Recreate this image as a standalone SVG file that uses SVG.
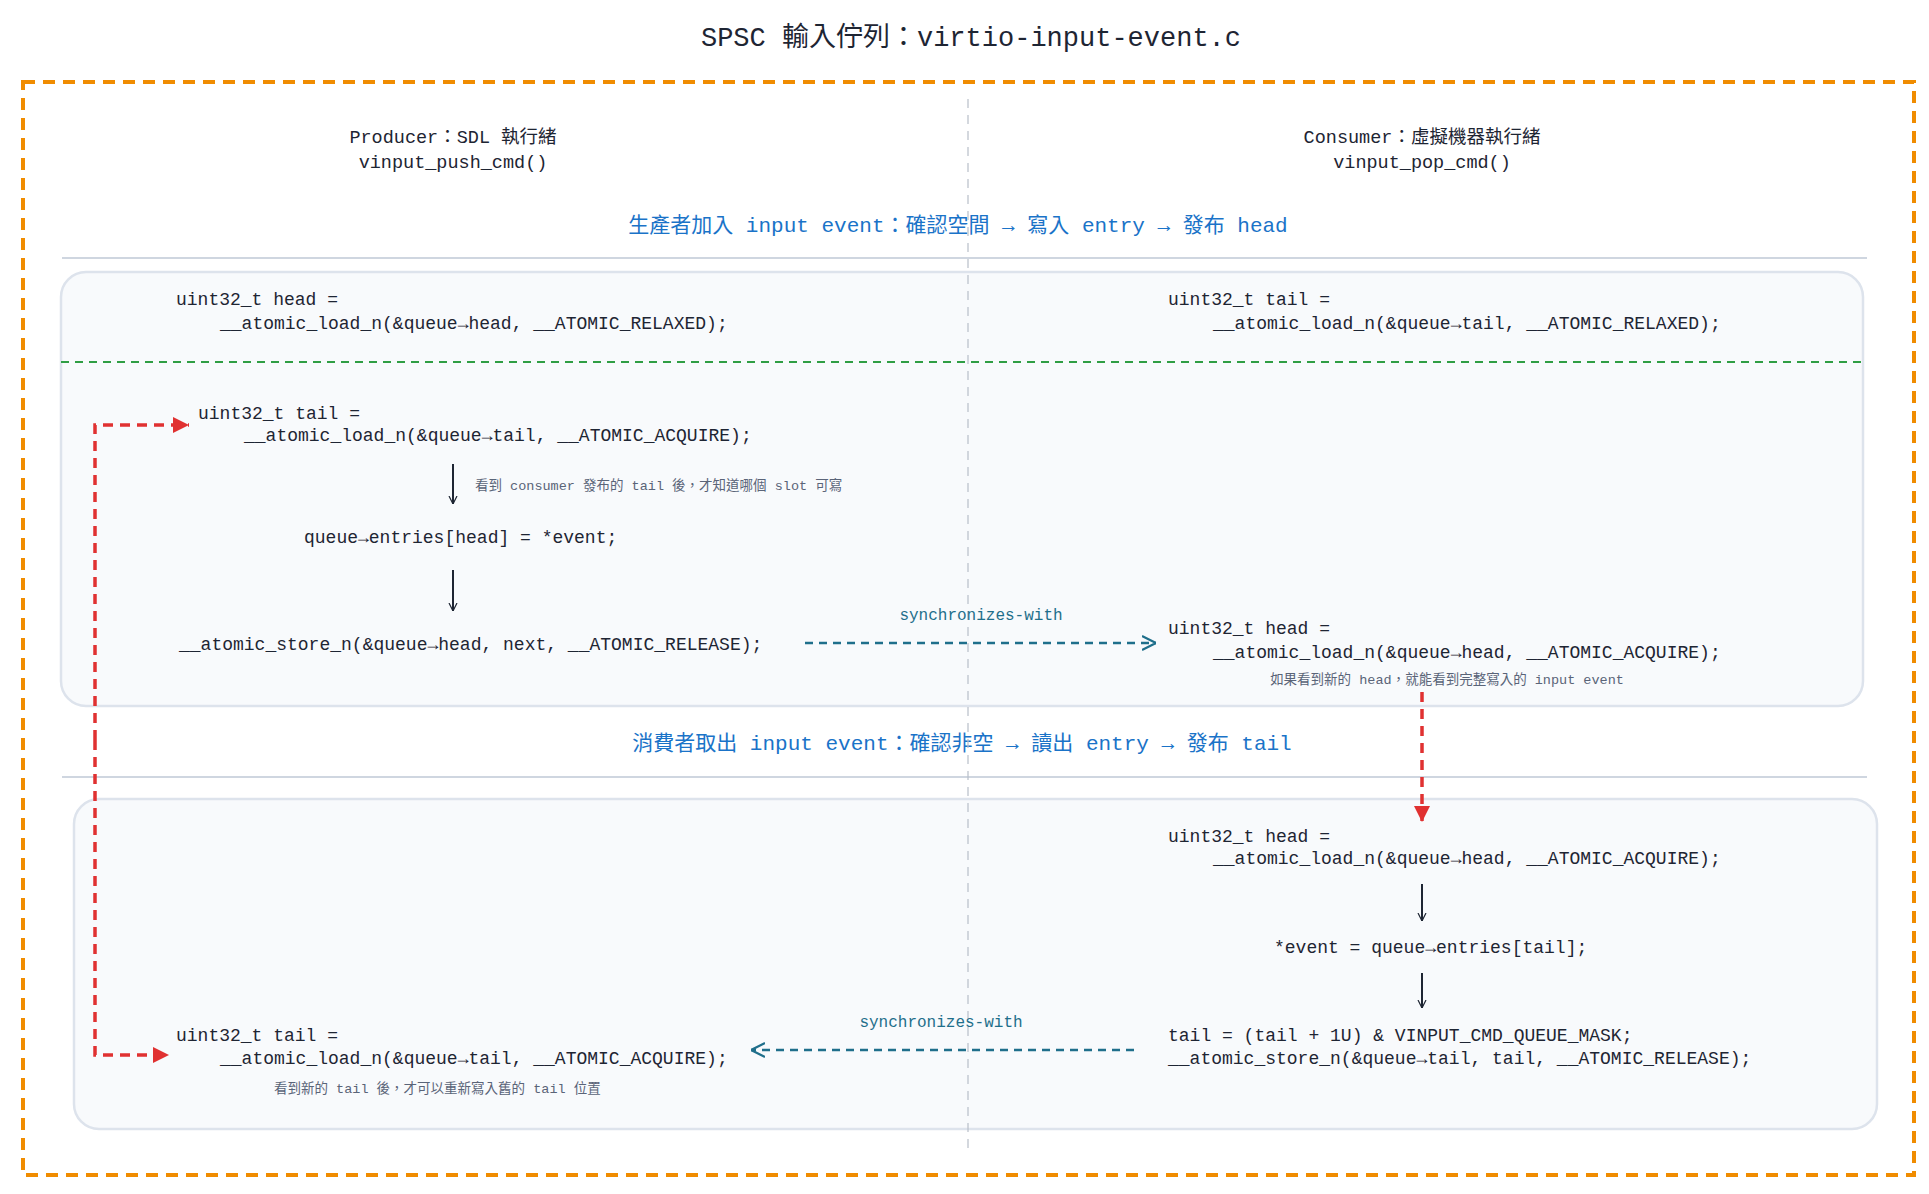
<svg xmlns="http://www.w3.org/2000/svg" width="1929" height="1194" viewBox="0 0 1929 1194">
<defs>
<style>
text{font-family:"Liberation Mono","Noto Sans CJK TC",monospace;fill:#1e2533}
.code{font-size:18px}
.hdr{font-size:18.5px;text-anchor:middle}
.sec{font-size:21px;fill:#1a73c8;text-anchor:middle}
.note{font-size:13.5px;fill:#5a6478}
.sync{font-size:16px;fill:#1f6f8b;text-anchor:middle}
.box{fill:#f8fafc;stroke:#dde3ec;stroke-width:2.5}
.blk{stroke:#1e2533;stroke-width:2;fill:none}
.syn{stroke:#1f6f8b;stroke-width:2.5;fill:none;stroke-dasharray:8 6}
.red{stroke:#e03131;stroke-width:3.5;fill:none;stroke-dasharray:10 7}
</style>
<marker id="ab" viewBox="0 0 10 10" refX="10" refY="5" markerWidth="8" markerHeight="12" orient="auto" markerUnits="userSpaceOnUse"><path d="M0,0 L10,5 L0,10" fill="none" stroke="#1e2533" stroke-width="1.5"/></marker>
<marker id="as" viewBox="0 0 10 10" refX="10" refY="5" markerWidth="14" markerHeight="18" orient="auto" markerUnits="userSpaceOnUse"><path d="M0,0 L10,5 L0,10" fill="none" stroke="#1f6f8b" stroke-width="1.6"/></marker>
<marker id="ar" viewBox="0 0 10 10" refX="10" refY="5" markerWidth="16" markerHeight="16" orient="auto" markerUnits="userSpaceOnUse"><path d="M0,0 L10,5 L0,10 Z" fill="#e03131"/></marker>
</defs>
<rect width="1929" height="1194" fill="#fff"/>
<text x="971" y="46" style="font-size:27px;text-anchor:middle">SPSC 輸入佇列：virtio-input-event.c</text>
<rect x="23" y="82" width="1891" height="1093" fill="none" stroke="#f08c00" stroke-width="4" stroke-dasharray="12 8"/>
<g id="lanes">
<text class="hdr" x="453" y="143">Producer：SDL 執行緒</text>
<text class="hdr" x="453" y="168">vinput_push_cmd()</text>
<text class="hdr" x="1422" y="143">Consumer：虛擬機器執行緒</text>
<text class="hdr" x="1422" y="168">vinput_pop_cmd()</text>
</g>
<g id="section1">
<text class="sec" x="958" y="232">生產者加入 input event：確認空間 → 寫入 entry → 發布 head</text>
<line x1="62" y1="258" x2="1867" y2="258" stroke="#cfd6e0" stroke-width="2"/>
<rect class="box" x="61" y="272" width="1802" height="434" rx="25"/>
<line x1="61" y1="362" x2="1863" y2="362" stroke="#2f9e44" stroke-width="2" stroke-dasharray="8 6"/>
</g>
<g id="section2">
<text class="sec" x="962" y="750">消費者取出 input event：確認非空 → 讀出 entry → 發布 tail</text>
<line x1="62" y1="777" x2="1867" y2="777" stroke="#cfd6e0" stroke-width="2"/>
<rect class="box" x="74" y="799" width="1803" height="330" rx="25"/>
</g>
<line x1="968" y1="99" x2="968" y2="1150" stroke="#b8bec8" stroke-width="1.2" stroke-dasharray="9 7"/>
<g id="p-load-head"><text class="code" x="176" y="305">uint32_t head =</text><text class="code" x="220" y="329">__atomic_load_n(&amp;queue→head, __ATOMIC_RELAXED);</text></g>
<g id="c-load-tail"><text class="code" x="1168" y="305">uint32_t tail =</text><text class="code" x="1213" y="329">__atomic_load_n(&amp;queue→tail, __ATOMIC_RELAXED);</text></g>
<g id="p-load-tail"><text class="code" x="198" y="419">uint32_t tail =</text><text class="code" x="244" y="441">__atomic_load_n(&amp;queue→tail, __ATOMIC_ACQUIRE);</text></g>
<g id="p-write"><text class="code" x="304" y="543">queue→entries[head] = *event;</text></g>
<g id="p-store"><text class="code" x="179" y="650">__atomic_store_n(&amp;queue→head, next, __ATOMIC_RELEASE);</text></g>
<g id="c-load-head1"><text class="code" x="1168" y="634">uint32_t head =</text><text class="code" x="1213" y="658">__atomic_load_n(&amp;queue→head, __ATOMIC_ACQUIRE);</text><text class="note" x="1447" y="684" text-anchor="middle">如果看到新的 head，就能看到完整寫入的 input event</text></g>
<g id="c-load-head2"><text class="code" x="1168" y="842">uint32_t head =</text><text class="code" x="1213" y="864">__atomic_load_n(&amp;queue→head, __ATOMIC_ACQUIRE);</text></g>
<g id="c-read"><text class="code" x="1274" y="953">*event = queue→entries[tail];</text></g>
<g id="c-store"><text class="code" x="1168" y="1041">tail = (tail + 1U) &amp; VINPUT_CMD_QUEUE_MASK;</text><text class="code" x="1168" y="1064">__atomic_store_n(&amp;queue→tail, tail, __ATOMIC_RELEASE);</text></g>
<g id="p-load-tail2"><text class="code" x="176" y="1041">uint32_t tail =</text><text class="code" x="220" y="1064">__atomic_load_n(&amp;queue→tail, __ATOMIC_ACQUIRE);</text><text class="note" x="274" y="1093">看到新的 tail 後，才可以重新寫入舊的 tail 位置</text></g>
<g id="connectors">
<line class="blk" x1="453" y1="464" x2="453" y2="504" marker-end="url(#ab)"/>
<text class="note" x="475" y="490">看到 consumer 發布的 tail 後，才知道哪個 slot 可寫</text>
<line class="blk" x1="453" y1="570" x2="453" y2="611" marker-end="url(#ab)"/>
<line class="syn" x1="805" y1="643" x2="1156" y2="643" marker-end="url(#as)"/>
<text class="sync" x="981" y="620">synchronizes-with</text>
<line class="red" x1="1422" y1="692" x2="1422" y2="822" marker-end="url(#ar)"/>
<line class="blk" x1="1422" y1="884" x2="1422" y2="921" marker-end="url(#ab)"/>
<line class="blk" x1="1422" y1="973" x2="1422" y2="1008" marker-end="url(#ab)"/>
<line class="syn" x1="1134" y1="1050" x2="751" y2="1050" marker-end="url(#as)"/>
<text class="sync" x="941" y="1027">synchronizes-with</text>
<path class="red" d="M95,740 L95,1055 L169,1055" marker-end="url(#ar)"/>
<path class="red" d="M95,740 L95,425 L189,425" marker-end="url(#ar)"/>
</g>
</svg>
